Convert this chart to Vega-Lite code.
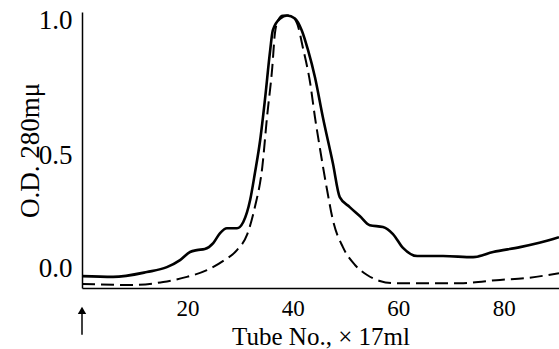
{
  "$schema": "https://vega.github.io/schema/vega-lite/v6.json",
  "width": 477,
  "height": 276,
  "autosize": {"type": "none"},
  "padding": {"left": 82, "top": 12, "right": 0, "bottom": 61},
  "background": "white",
  "config": {
    "view": {"stroke": null},
    "font": "Liberation Serif",
    "axis": {"grid": false, "domainColor": "black", "domainWidth": 1.5, "tickColor": "black", "labelColor": "black", "titleColor": "black", "labelFont": "Liberation Serif", "titleFont": "Liberation Serif", "titleFontWeight": "normal"}
  },
  "datasets": {
    "curves": [
      {"tube": 0, "od": 0.044, "series": "solid"},
      {"tube": 5.9, "od": 0.041, "series": "solid"},
      {"tube": 12.3, "od": 0.059, "series": "solid"},
      {"tube": 16.1, "od": 0.077, "series": "solid"},
      {"tube": 18.6, "od": 0.103, "series": "solid"},
      {"tube": 20.5, "od": 0.133, "series": "solid"},
      {"tube": 21.8, "od": 0.14, "series": "solid"},
      {"tube": 23.3, "od": 0.144, "series": "solid"},
      {"tube": 24.9, "od": 0.166, "series": "solid"},
      {"tube": 26.2, "od": 0.203, "series": "solid"},
      {"tube": 27.5, "od": 0.221, "series": "solid"},
      {"tube": 29.4, "od": 0.221, "series": "solid"},
      {"tube": 30.6, "od": 0.244, "series": "solid"},
      {"tube": 31.9, "od": 0.325, "series": "solid"},
      {"tube": 32.8, "od": 0.424, "series": "solid"},
      {"tube": 33.8, "od": 0.546, "series": "solid"},
      {"tube": 34.7, "od": 0.694, "series": "solid"},
      {"tube": 35.7, "od": 0.878, "series": "solid"},
      {"tube": 36.2, "od": 0.952, "series": "solid"},
      {"tube": 37.6, "od": 0.996, "series": "solid"},
      {"tube": 38.9, "od": 1.007, "series": "solid"},
      {"tube": 40.4, "od": 0.996, "series": "solid"},
      {"tube": 41.7, "od": 0.952, "series": "solid"},
      {"tube": 42.9, "od": 0.878, "series": "solid"},
      {"tube": 44.2, "od": 0.779, "series": "solid"},
      {"tube": 45.7, "od": 0.631, "series": "solid"},
      {"tube": 47.6, "od": 0.461, "series": "solid"},
      {"tube": 48.9, "od": 0.336, "series": "solid"},
      {"tube": 50.8, "od": 0.299, "series": "solid"},
      {"tube": 52.7, "od": 0.266, "series": "solid"},
      {"tube": 54.6, "od": 0.232, "series": "solid"},
      {"tube": 57.1, "od": 0.225, "series": "solid"},
      {"tube": 59.0, "od": 0.199, "series": "solid"},
      {"tube": 60.9, "od": 0.148, "series": "solid"},
      {"tube": 63.6, "od": 0.118, "series": "solid"},
      {"tube": 68.5, "od": 0.118, "series": "solid"},
      {"tube": 74.2, "od": 0.114, "series": "solid"},
      {"tube": 78.0, "od": 0.133, "series": "solid"},
      {"tube": 83.1, "od": 0.151, "series": "solid"},
      {"tube": 89.4, "od": 0.181, "series": "solid"},
      {"tube": 90.5, "od": 0.188, "series": "solid"},
      {"tube": 0, "od": 0.015, "series": "dashed"},
      {"tube": 9.1, "od": 0.011, "series": "dashed"},
      {"tube": 15.4, "od": 0.022, "series": "dashed"},
      {"tube": 19.9, "od": 0.041, "series": "dashed"},
      {"tube": 23.7, "od": 0.066, "series": "dashed"},
      {"tube": 26.8, "od": 0.1, "series": "dashed"},
      {"tube": 29.4, "od": 0.14, "series": "dashed"},
      {"tube": 31.3, "od": 0.196, "series": "dashed"},
      {"tube": 32.8, "od": 0.299, "series": "dashed"},
      {"tube": 34.2, "od": 0.446, "series": "dashed"},
      {"tube": 35.1, "od": 0.631, "series": "dashed"},
      {"tube": 36.1, "od": 0.815, "series": "dashed"},
      {"tube": 36.6, "od": 0.941, "series": "dashed"},
      {"tube": 37.2, "od": 0.989, "series": "dashed"},
      {"tube": 38.1, "od": 1.007, "series": "dashed"},
      {"tube": 39.5, "od": 1.007, "series": "dashed"},
      {"tube": 40.8, "od": 0.978, "series": "dashed"},
      {"tube": 41.9, "od": 0.889, "series": "dashed"},
      {"tube": 43.3, "od": 0.756, "series": "dashed"},
      {"tube": 44.2, "od": 0.631, "series": "dashed"},
      {"tube": 45.2, "od": 0.509, "series": "dashed"},
      {"tube": 46.5, "od": 0.362, "series": "dashed"},
      {"tube": 47.6, "od": 0.251, "series": "dashed"},
      {"tube": 49.5, "od": 0.151, "series": "dashed"},
      {"tube": 51.8, "od": 0.085, "series": "dashed"},
      {"tube": 54.1, "od": 0.048, "series": "dashed"},
      {"tube": 56.5, "od": 0.026, "series": "dashed"},
      {"tube": 59.0, "od": 0.018, "series": "dashed"},
      {"tube": 71.7, "od": 0.018, "series": "dashed"},
      {"tube": 79.3, "od": 0.03, "series": "dashed"},
      {"tube": 84.4, "od": 0.037, "series": "dashed"},
      {"tube": 90.5, "od": 0.055, "series": "dashed"}
    ],
    "arrow": [{"tube": 0, "tip": -0.09, "tail": -0.173, "head": -0.083}]
  },
  "layer": [
    {
      "data": {"name": "curves"},
      "transform": [{"filter": "datum.series == 'solid'"}],
      "mark": {"type": "line", "interpolate": "monotone", "color": "black", "strokeWidth": 2.6},
      "encoding": {
        "x": {"field": "tube", "type": "quantitative", "scale": {"domain": [0, 90.5], "nice": false, "zero": false},
          "axis": {"values": [20, 40, 60, 80], "title": "Tube No., × 17ml", "labelFontSize": 23, "titleFontSize": 25, "tickSize": 0, "labelPadding": 9, "titlePadding": 4, "domainWidth": 1.5}},
        "y": {"field": "od", "type": "quantitative", "scale": {"domain": [0, 1.02], "nice": false},
          "axis": {"values": [0, 0.5, 1.0], "format": ".1f", "title": "O.D. 280mμ", "labelFontSize": 27, "titleFontSize": 27, "tickSize": 0, "labelPadding": 10, "titlePadding": -6,
            "labelOffset": {"condition": {"test": "datum.value == 0", "value": -20}, "value": 3}}}
      }
    },
    {
      "data": {"name": "curves"},
      "transform": [{"filter": "datum.series == 'dashed'"}],
      "mark": {"type": "line", "interpolate": "monotone", "color": "black", "strokeWidth": 2, "strokeDash": [13, 6]},
      "encoding": {
        "x": {"field": "tube", "type": "quantitative"},
        "y": {"field": "od", "type": "quantitative"}
      }
    },
    {
      "data": {"name": "arrow"},
      "mark": {"type": "rule", "color": "black", "strokeWidth": 1.5},
      "encoding": {
        "x": {"field": "tube", "type": "quantitative"},
        "y": {"field": "tip", "type": "quantitative"},
        "y2": {"field": "tail"}
      }
    },
    {
      "data": {"name": "arrow"},
      "mark": {"type": "point", "shape": "triangle-up", "filled": true, "color": "black", "size": 70, "opacity": 1},
      "encoding": {
        "x": {"field": "tube", "type": "quantitative"},
        "y": {"field": "head", "type": "quantitative"}
      }
    }
  ]
}
